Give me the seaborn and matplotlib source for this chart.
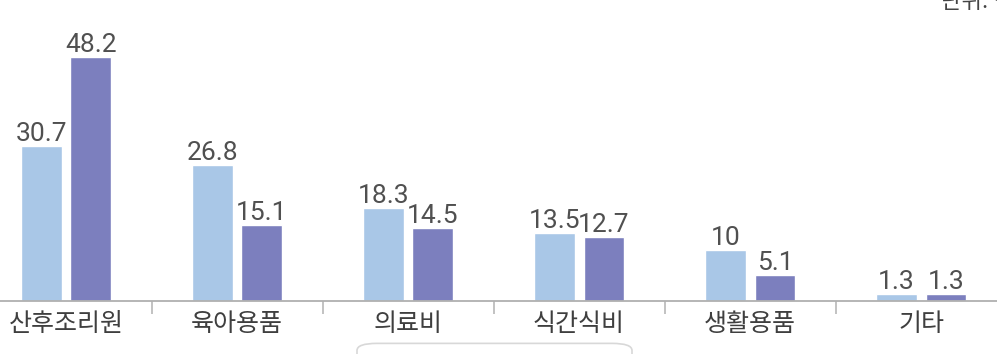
import matplotlib
matplotlib.use("Agg")
import matplotlib.pyplot as plt
import seaborn as sns
import pandas as pd
from matplotlib.patches import FancyBboxPatch
from matplotlib.ticker import FixedLocator

categories = ["산후조리원", "육아용품", "의료비", "식간식비", "생활용품", "기타"]
series_names = ["A", "B"]
values_a = [30.7, 26.8, 18.3, 13.5, 10, 1.3]
values_b = [48.2, 15.1, 14.5, 12.7, 5.1, 1.3]
labels_a = ["30.7", "26.8", "18.3", "13.5", "10", "1.3"]
labels_b = ["48.2", "15.1", "14.5", "12.7", "5.1", "1.3"]
colors = ["#a9c7e7", "#7c7fbe"]

sns.set_theme(style="white")
plt.rcParams["font.family"] = ["Noto Sans CJK KR", "DejaVu Sans"]

df = pd.DataFrame({
    "cat": categories * 2,
    "series": [series_names[0]] * 6 + [series_names[1]] * 6,
    "val": values_a + values_b,
})

fig = plt.figure(figsize=(9.97, 3.54), dpi=100)
ax = fig.add_axes([0, 0.1497, 1, 0.8503])
sns.barplot(data=df, x="cat", y="val", hue="series", palette=colors,
            width=0.58, gap=0.18, dodge=True, ax=ax, legend=False,
            saturation=1, errorbar=None)

ax.set_xlim(-0.386, 5.444)
ax.set_ylim(0, 59.5)
ax.set_xlabel("")
ax.set_ylabel("")
ax.set_yticks([])
for s in ["top", "left", "right"]:
    ax.spines[s].set_visible(False)
ax.spines["bottom"].set_color("#b0b0b0")
ax.spines["bottom"].set_linewidth(1.3)

ax.xaxis.set_minor_locator(FixedLocator([0.5, 1.5, 2.5, 3.5, 4.5]))
ax.tick_params(axis="x", which="major", length=0, pad=7, labelsize=18, labelcolor="#3f3f3f")
ax.tick_params(axis="x", which="minor", length=9, width=1.2, color="#b8b8b8", bottom=True)

for cont, labs in zip(ax.containers, [labels_a, labels_b]):
    ax.bar_label(cont, labels=labs, padding=0, fontsize=19, color="#505050",
                 family=["Roboto", "DejaVu Sans"])

fig.text(0.944, 1 - 13 / 354, "단위: %", fontsize=16, color="#444444",
         va="bottom", ha="left")

box = FancyBboxPatch((357 / 997, -0.05), 275 / 997, 0.08,
                     boxstyle="round,pad=0,rounding_size=0.02",
                     transform=fig.transFigure, facecolor="white",
                     edgecolor="#d8d8d8", linewidth=1.2)
fig.patches.append(box)

fig.savefig("out.png", dpi=100)
